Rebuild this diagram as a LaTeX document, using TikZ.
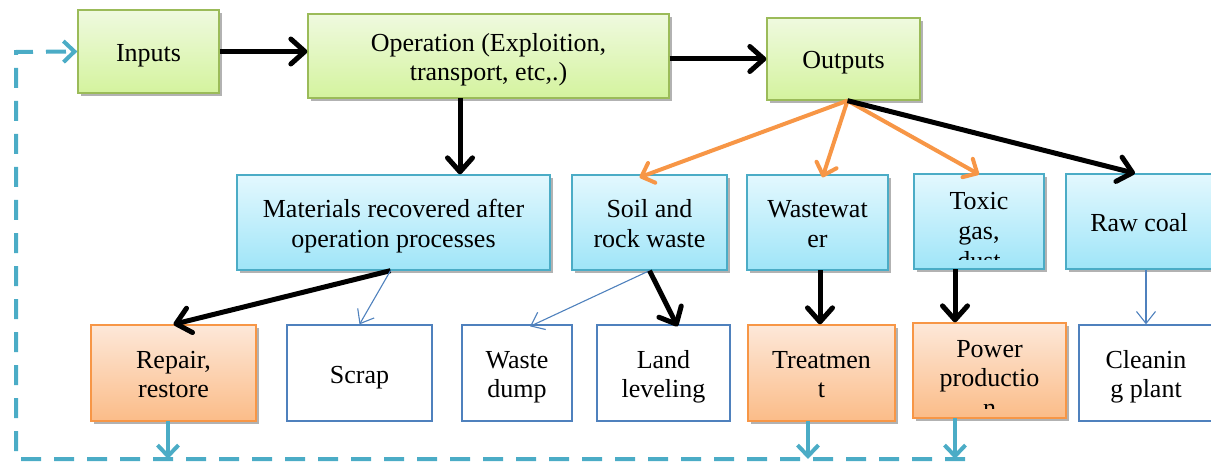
\documentclass[tikz,border=0pt]{standalone}
\usepackage{fontspec}
\setmainfont{Liberation Serif}
\usetikzlibrary{arrows.meta,shadows,calc}
\definecolor{gborder}{HTML}{9BBB59}
\definecolor{gtop}{HTML}{EFFADF}
\definecolor{gbot}{HTML}{D4F39E}
\definecolor{bborder}{HTML}{4BACC6}
\definecolor{btop}{HTML}{E3F8FE}
\definecolor{bbot}{HTML}{9FE5F8}
\definecolor{oborder}{HTML}{F79646}
\definecolor{otop}{HTML}{FDE8D9}
\definecolor{obot}{HTML}{FBBC88}
\definecolor{wborder}{HTML}{4F81BD}
\definecolor{loopc}{HTML}{4BACC6}
% fixed first-line height and last-line depth, so text sits like a word-processor line box
\newcommand\bt[1]{\rule{0pt}{27pt}#1\rule[-7pt]{0pt}{0pt}}
\begin{document}
\begin{tikzpicture}[x=1pt,y=-1pt,
  txt/.style={align=center, inner sep=0pt, font=\fontsize{26}{29.5}\selectfont, text=black},
  box/.style={txt, draw, line width=1.3pt},
  shad/.style={drop shadow={shadow xshift=2.5pt,shadow yshift=-3pt,opacity=.3,fill=black}},
  greenbox/.style={box, shad, draw=gborder, top color=gtop, bottom color=gbot},
  bluebox/.style={box, shad, draw=bborder, top color=btop, bottom color=bbot},
  orangebox/.style={box, shad, draw=oborder, top color=otop, bottom color=obot},
  whitebox/.style={box, draw=wborder, fill=white},
  blk/.style={draw=black, line width=5pt, -{Straight Barb[length=14pt,width=25pt,round]}},
  org/.style={draw=oborder, line width=4pt, -{Straight Barb[length=11pt,width=21pt,round]}},
  thin/.style={draw=wborder, line width=1.1pt, -{Straight Barb[length=12pt,width=19pt]}},
  cyan/.style={draw=loopc, line width=4pt, -{Straight Barb[length=11pt,width=21pt]}},
  loopline/.style={draw=loopc, line width=4pt, dash pattern=on 20pt off 13pt, -{Straight Barb[length=11pt,width=21pt]}}
]
\useasboundingbox (0,0) rectangle (1211,468);

% top row
\node[greenbox, minimum width=141pt, minimum height=83pt] (inputs) at (148.5,51.5) {\bt{Inputs}};
\node[greenbox, minimum width=361pt, minimum height=84pt] (oper) at (488.5,56) {\bt{Operation (Exploition,\\transport, etc,.)}};
\node[greenbox, minimum width=153pt, minimum height=82pt] (outputs) at (843.5,59) {\bt{Outputs}};

% middle row
\node[bluebox, minimum width=313pt, minimum height=95pt] (mat) at (393.5,222.5) {\bt{Materials recovered after\\operation processes}};
\node[bluebox, minimum width=155pt, minimum height=95pt] (soil) at (649.5,222.5) {\bt{Soil and\\rock waste}};
\node[bluebox, minimum width=141pt, minimum height=95pt] (waste) at (817.5,222.5) {\bt{Wastewat\\er}};
\node[bluebox, minimum width=130pt, minimum height=95pt] (toxic) at (979,221.5) {};
\begin{scope}
  \clip (toxic.north west) rectangle (toxic.east |- 0,259);
  \node[txt] (toxict) at (979,229.5) {\bt{Toxic\\gas,\\dust}};
\end{scope}
\node[bluebox, minimum width=146pt, minimum height=95pt] (raw) at (1139,221.5) {\bt{Raw coal}};

% bottom row
\node[orangebox, minimum width=165pt, minimum height=96pt] (repair) at (173.5,373) {\bt{Repair,\\restore}};
\node[whitebox, minimum width=145pt, minimum height=96pt] (scrap) at (359.5,373) {\bt{Scrap}};
\node[whitebox, minimum width=110pt, minimum height=96pt] (wdump) at (517,373) {\bt{Waste\\dump}};
\node[whitebox, minimum width=133pt, minimum height=96pt] (land) at (663.5,373) {\bt{Land\\leveling}};
\node[orangebox, minimum width=147pt, minimum height=96pt] (treat) at (821.5,373) {\bt{Treatmen\\t}};
\node[orangebox, minimum width=153pt, minimum height=95pt] (power) at (989.5,370.5) {};
\begin{scope}
  \clip (power.north west) rectangle (power.east |- 0,408);
  \node[txt] (powert) at (989.5,376.5) {\bt{Power\\productio\\n}};
\end{scope}
\node[whitebox, minimum width=134pt, minimum height=96pt] (clean) at (1146,373) {\bt{Cleanin\\g plant}};

% top arrows
\draw[blk] (inputs.east) -- (inputs.east -| oper.west);
\draw[blk] (oper.east |- outputs.west) -- (outputs.west);
\coordinate (od) at (460,98);
\draw[blk] (od) -- (od |- mat.north);

% fan from outputs
\coordinate (fan) at ([xshift=4pt]outputs.south);
\draw[org] (fan) -- ([xshift=-10pt,yshift=-3pt]soil.north);
\draw[org] (fan) -- ([xshift=5pt,yshift=-3pt]waste.north);
\draw[org] (fan) -- ([yshift=-1pt]toxic.north);
\draw[blk] (fan) -- ([xshift=-4pt]raw.north);

% middle to bottom
\coordinate (ms) at ([xshift=-3pt]mat.south);
\draw[blk] (ms) -- (repair.north);
\draw[thin] (ms) -- (scrap.north);
\draw[thin] (soil.south) -- ([xshift=13pt,yshift=-2pt]wdump.north);
\draw[blk] (soil.south) -- ([xshift=14pt,yshift=-2pt]land.north);
\coordinate (ws) at (820,270);
\draw[blk] (ws) -- (ws |- treat.north);
\coordinate (ts) at (955,269);
\draw[blk] (ts) -- (ts |- power.north);
\draw[thin] (raw.south -| clean.north) -- (clean.north);

% feedback loop
\coordinate (lt) at (16,52);
\coordinate (lb) at (16,459);
\coordinate (rb) at (965,459);
\draw[loopline] (rb) -- (lb) -- (lt) -- (inputs.west);
\coordinate (r1) at (168,421);
\coordinate (r2) at (808,421);
\coordinate (r3) at (955,418);
\draw[cyan] (r1) -- (r1 |- lb);
\draw[cyan] (r2) -- (r2 |- lb);
\draw[cyan] (r3) -- (r3 |- lb);
\end{tikzpicture}
\end{document}
